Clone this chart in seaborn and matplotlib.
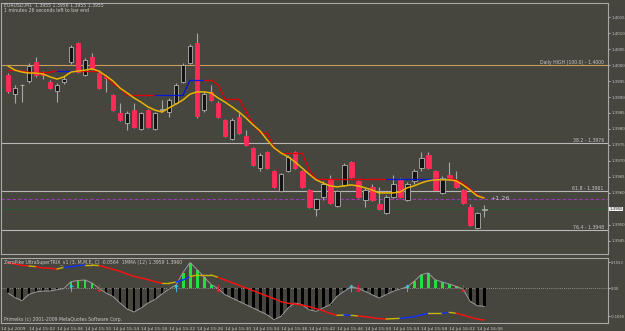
import numpy as np
import pandas as pd
import matplotlib
matplotlib.use("Agg")
import matplotlib.pyplot as plt
from matplotlib import font_manager
import seaborn as sns

# ---- data (EURUSD M1) ----
bars = list(range(69))

opens = [1.39969, 1.39909, 1.39938, 1.39950, 1.40009, 1.39972, 1.39947, 1.39919, 1.39947, 1.40009,
         1.40069, 1.39969, 1.40025, 1.39975, 1.39963, 1.39906, 1.39850, 1.39819, 1.39859, 1.39800,
         1.39859, 1.39800, 1.39859, 1.39853, 1.39881, 1.39947, 1.40006, 1.40069, 1.39859, 1.39916,
         1.39881, 1.39828, 1.39769, 1.39838, 1.39778, 1.39741, 1.39678, 1.39728, 1.39669, 1.39606,
         1.39669, 1.39728, 1.39669, 1.39609, 1.39550, 1.39588, 1.39641, 1.39559, 1.39625, 1.39697,
         1.39638, 1.39578, 1.39619, 1.39566, 1.39538, 1.39588, 1.39641, 1.39578, 1.39638, 1.39678,
         1.39719, 1.39669, 1.39600, 1.39656, 1.39638, 1.39609, 1.39556, 1.39491, 1.39547]
highs = [1.39975, 1.39938, 1.39941, 1.40006, 1.40025, 1.39981, 1.39953, 1.39944, 1.39966, 1.40063,
         1.40072, 1.40022, 1.40038, 1.39981, 1.39969, 1.39909, 1.39881, 1.39856, 1.39881, 1.39853,
         1.39863, 1.39853, 1.39891, 1.39897, 1.39944, 1.40006, 1.40066, 1.40100, 1.39916, 1.39938,
         1.39888, 1.39831, 1.39834, 1.39850, 1.39797, 1.39744, 1.39725, 1.39731, 1.39672, 1.39663,
         1.39719, 1.39731, 1.39672, 1.39613, 1.39584, 1.39638, 1.39656, 1.39609, 1.39694, 1.39700,
         1.39641, 1.39616, 1.39628, 1.39619, 1.39594, 1.39656, 1.39647, 1.39634, 1.39675, 1.39728,
         1.39728, 1.39672, 1.39653, 1.39697, 1.39669, 1.39613, 1.39566, 1.39541, 1.39563]
lows = [1.39913, 1.39881, 1.39884, 1.39944, 1.39963, 1.39956, 1.39925, 1.39884, 1.39941, 1.40003,
        1.39975, 1.39966, 1.39984, 1.39925, 1.39916, 1.39856, 1.39825, 1.39797, 1.39803, 1.39797,
        1.39803, 1.39797, 1.39853, 1.39838, 1.39878, 1.39944, 1.40003, 1.39834, 1.39853, 1.39888,
        1.39834, 1.39775, 1.39766, 1.39784, 1.39747, 1.39684, 1.39669, 1.39675, 1.39616, 1.39603,
        1.39666, 1.39675, 1.39616, 1.39553, 1.39528, 1.39578, 1.39566, 1.39556, 1.39622, 1.39647,
        1.39584, 1.39556, 1.39575, 1.39547, 1.39534, 1.39584, 1.39584, 1.39575, 1.39628, 1.39669,
        1.39675, 1.39606, 1.39597, 1.39641, 1.39616, 1.39566, 1.39497, 1.39488, 1.39525]
closes = [1.39919, 1.39928, 1.39938, 1.39997, 1.39969, 1.39969, 1.39928, 1.39938, 1.39956, 1.40056,
          1.39978, 1.40016, 1.39988, 1.39928, 1.39959, 1.39859, 1.39828, 1.39850, 1.39806, 1.39850,
          1.39806, 1.39850, 1.39863, 1.39891, 1.39938, 1.40000, 1.40059, 1.39841, 1.39909, 1.39891,
          1.39838, 1.39778, 1.39828, 1.39788, 1.39750, 1.39688, 1.39719, 1.39678, 1.39619, 1.39659,
          1.39713, 1.39678, 1.39619, 1.39556, 1.39581, 1.39628, 1.39569, 1.39606, 1.39688, 1.39650,
          1.39588, 1.39609, 1.39578, 1.39550, 1.39588, 1.39628, 1.39588, 1.39628, 1.39669, 1.39709,
          1.39678, 1.39609, 1.39647, 1.39647, 1.39619, 1.39569, 1.39500, 1.39538, 1.39550]

# smooth moving average (yellow)
ma_fast = [1.39997, 1.39984, 1.39978, 1.39975, 1.39975, 1.39972, 1.39963, 1.39956, 1.39963, 1.39978,
           1.39981, 1.39984, 1.39988, 1.39981, 1.39966, 1.39950, 1.39928, 1.39913, 1.39897, 1.39884,
           1.39869, 1.39859, 1.39853, 1.39866, 1.39878, 1.39891, 1.39909, 1.39916, 1.39916, 1.39913,
           1.39897, 1.39884, 1.39869, 1.39853, 1.39834, 1.39813, 1.39794, 1.39766, 1.39741, 1.39725,
           1.39713, 1.39697, 1.39678, 1.39659, 1.39641, 1.39631, 1.39622, 1.39619, 1.39622, 1.39625,
           1.39622, 1.39616, 1.39609, 1.39600, 1.39600, 1.39600, 1.39603, 1.39616, 1.39622, 1.39631,
           1.39638, 1.39641, 1.39641, 1.39641, 1.39638, 1.39625, 1.39609, 1.39591, 1.39584]

# stepped trend line, r = falling (red), b = rising (blue)
trend_line = [1.39984, 1.39984, 1.39981, 1.39978, 1.39978, 1.39978, 1.39978, 1.39981, 1.39981, 1.39981,
              1.39981, 1.39981, 1.39981, 1.39981, 1.39963, 1.39941, 1.39928, 1.39906, 1.39906, 1.39906,
              1.39906, 1.39906, 1.39906, 1.39906, 1.39906, 1.39906, 1.39953, 1.39953, 1.39953, 1.39953,
              1.39938, 1.39894, 1.39894, 1.39894, 1.39853, 1.39816, 1.39788, 1.39788, 1.39741, 1.39725,
              1.39725, 1.39725, 1.39725, 1.39672, 1.39644, 1.39644, 1.39644, 1.39644, 1.39644, 1.39644,
              1.39644, 1.39644, 1.39644, 1.39644, 1.39644, 1.39644, 1.39644, 1.39644, 1.39644, 1.39644,
              1.39644, 1.39644, 1.39644, 1.39644, 1.39641, 1.39631, 1.39613, 1.39594, 1.39584]
trend_state = "rrrrrrr" + "bbb" + "rrrrrrrrrrr" + "bbbbbbb" + "rrrrrrrrrrrrrrrrrrrrrrrrrr" + "bbbbbbbbb" + "rrrrrr"

# indicator panel
trix_hist = [-0.030, -0.058, -0.076, -0.038, -0.024, -0.018, -0.018, -0.010, -0.003, 0.038,
             0.045, 0.048, 0.030, -0.002, -0.030, -0.051, -0.090, -0.126, -0.144, -0.120,
             -0.090, -0.069, -0.036, -0.006, 0.018, 0.093, 0.153, 0.111, 0.066, 0.021,
             -0.003, -0.040, -0.060, -0.080, -0.100, -0.120, -0.140, -0.160, -0.190, -0.170,
             -0.120, -0.090, -0.100, -0.130, -0.140, -0.120, -0.100, -0.050, -0.020, 0.006,
             -0.002, -0.020, -0.040, -0.060, -0.040, -0.020, -0.006, 0.006, 0.040, 0.080,
             0.090, 0.050, 0.036, 0.024, 0.010, -0.006, -0.080, -0.106, -0.110]
mma_line = [0.152, 0.144, 0.136, 0.132, 0.128, 0.120, 0.118, 0.114, 0.124, 0.128,
            0.134, 0.138, 0.138, 0.134, 0.124, 0.112, 0.100, 0.084, 0.070, 0.060,
            0.050, 0.038, 0.028, 0.028, 0.036, 0.048, 0.068, 0.078, 0.078, 0.078,
            0.064, 0.048, 0.032, 0.016, 0.000, -0.016, -0.032, -0.048, -0.064, -0.082,
            -0.092, -0.096, -0.102, -0.112, -0.124, -0.136, -0.152, -0.164, -0.162, -0.164,
            -0.168, -0.172, -0.178, -0.184, -0.186, -0.184, -0.182, -0.178, -0.172, -0.162,
            -0.152, -0.152, -0.152, -0.146, -0.152, -0.162, -0.176, -0.186, -0.192]
mma_state = ("rrr" + "y" + "rrr" + "y" + "bbb" + "yy" + "rrrrrrrrr" + "yy" + "bb" + "yyyy"
             + "rrrrrrrrrrrrrrrrr" + "y" + "b" + "y" + "rrrr" + "yy" + "bbbb" + "yy" + "b" + "y" + "rrrrr")
up_arrows = [9, 24, 49, 57]
down_arrows = [13, 30, 50, 65]

time_ticks = [-1, 3, 7, 11, 15, 19, 23, 27, 31, 35, 39, 43, 47, 51, 55, 59, 63, 67]
time_labels = ["14 Jul 2009", "14 Jul 15:02", "14 Jul 15:06", "14 Jul 15:10", "14 Jul 15:14",
               "14 Jul 15:18", "14 Jul 15:22", "14 Jul 15:26", "14 Jul 15:30", "14 Jul 15:34",
               "14 Jul 15:38", "14 Jul 15:42", "14 Jul 15:46", "14 Jul 15:50", "14 Jul 15:54",
               "14 Jul 15:58", "14 Jul 16:02", "14 Jul 16:06"]
price_ticks = [1.4015, 1.4010, 1.4005, 1.4000, 1.3995, 1.3990, 1.3985, 1.3980, 1.3975,
               1.3970, 1.3965, 1.3960, 1.3950, 1.3945]
bid = 1.3955
daily_high = 1.4000
fib_levels = [1.39756, 1.39606, 1.39484]
fib_labels = ["38.2 - 1.3976", "61.8 - 1.3961", "76.4 - 1.3948"]
target_level = 1.39581
ind_ticks = [0.1553, 0.0, -0.1690]
ind_labels = ["0.1553", "0.00", "-0.1690"]

# ---- style ----
BG = "#46463f"
TXT = "#c8c8c8"
FRAME = "#a8a8a8"
sns.set_theme(style="dark")
installed = {f.name for f in font_manager.fontManager.ttflist}
if "Liberation Sans Narrow" in installed:
    plt.rcParams["font.family"] = ["Liberation Sans Narrow", "DejaVu Sans"]
    FS = 4.0
else:
    plt.rcParams["font.family"] = ["DejaVu Sans"]
    FS = 3.3
AX_FS = FS * 0.86  # right-hand price scale is tight

fig = plt.figure(figsize=(6.25, 3.31), dpi=100)
fig.patch.set_facecolor(BG)
W, H = 625, 331
ax = fig.add_axes([1 / W, 1 - 254 / H, 607 / W, 251 / H])
axi = fig.add_axes([1 / W, 1 - 323 / H, 607 / W, 65 / H], sharex=ax)

for a in (ax, axi):
    a.set_facecolor(BG)
    a.grid(False)
    for s in a.spines.values():
        s.set_color(FRAME)
        s.set_linewidth(0.8)
    a.yaxis.tick_right()
    a.tick_params(axis="y", colors=TXT, labelsize=AX_FS, length=1.5, width=0.6, pad=0.8, direction="out")

ax.set_xlim(-1, 85.7)
ax.set_ylim(1.39409, 1.40194)
axi.set_ylim(-0.21, 0.18)

# ---- candles ----
df = pd.DataFrame({"bar": bars, "open": opens, "high": highs, "low": lows, "close": closes})
bull = df["close"] >= df["open"]
lo = df[["open", "close"]].min(axis=1)
hi = df[["open", "close"]].max(axis=1)
ax.vlines(df["bar"], df["low"], df["high"], color="#a8a8a8", lw=0.8, zorder=3)
ax.bar(df["bar"], hi - lo, bottom=lo, width=0.7,
       color=np.where(bull, "#141414", "#ff2a55"),
       edgecolor=np.where(bull, "#b0b0b0", "#ff2a55"), linewidth=0.6, zorder=4)

# horizontal levels
ax.axhline(daily_high, color="#c89a5c", lw=0.8, zorder=2)
ax.text(0.993, daily_high, "Daily HIGH (100.0) - 1.4000", transform=ax.get_yaxis_transform(),
        ha="right", va="bottom", fontsize=FS, color=TXT)
for lv, lab in zip(fib_levels, fib_labels):
    ax.axhline(lv, color="#b8b8b8", lw=0.8, zorder=2)
    ax.text(0.993, lv, lab, transform=ax.get_yaxis_transform(),
            ha="right", va="bottom", fontsize=FS, color=TXT)
ax.axhline(target_level, color="#9c3cb4", lw=0.8, ls=(0, (3, 2)), zorder=2)
ax.axhline(bid, color="#2f5a38", lw=0.9, zorder=2)

# moving averages
palette = {"r": "#e00000", "b": "#0018d8", "y": "#d8b000"}
for i in range(len(bars) - 1):
    ax.plot(bars[i:i + 2], trend_line[i:i + 2], color=palette[trend_state[i]], lw=0.9, zorder=5)
sns.lineplot(x=bars, y=ma_fast, ax=ax, color="#e8b400", lw=1.1, zorder=6)

ax.text(68.9, 1.39584, "+1.26", fontsize=FS * 1.4, color=TXT, va="center", ha="left")
ax.set_yticks(price_ticks)
ax.set_yticklabels([f"{p:.4f}" for p in price_ticks])
ax.annotate(f"{bid:.4f}", xy=(1.0, bid), xycoords=("axes fraction", "data"),
            xytext=(1.2, 0), textcoords="offset points", fontsize=AX_FS, color="#202020",
            va="center", ha="left", bbox=dict(boxstyle="square,pad=0.08", fc="#eeeeee", ec="none"))
ax.tick_params(axis="x", bottom=False, labelbottom=False)

# ---- indicator ----
ind_cols = ["#22e040" if v > 0 else "#000000" for v in trix_hist]
axi.bar(bars, trix_hist, width=0.42, color=ind_cols, linewidth=0, zorder=3)
sns.lineplot(x=bars, y=trix_hist, ax=axi, color="#9a9a9a", lw=0.7, zorder=4)
axi.axhline(0, color="#a8a8a8", lw=0.6, ls=(0, (1, 1.5)), zorder=2)
ipal = {"r": "#ff1010", "b": "#1030ff", "y": "#c8b400"}
for i in range(len(bars) - 1):
    axi.plot(bars[i:i + 2], mma_line[i:i + 2], color=ipal[mma_state[i]], lw=1.0, zorder=5)
axi.scatter(up_arrows, [0] * len(up_arrows), marker=r"$\uparrow$", s=28, color="#38c8ff", zorder=6, linewidths=0)
axi.scatter(down_arrows, [0] * len(down_arrows), marker=r"$\downarrow$", s=28, color="#ff2020", zorder=6, linewidths=0)

axi.set_yticks(ind_ticks)
axi.set_yticklabels(ind_labels)
axi.tick_params(axis="y", labelsize=AX_FS * 0.92)
axi.set_xticks(time_ticks)
axi.set_xticklabels(time_labels)
axi.tick_params(axis="x", colors=TXT, labelsize=FS * 0.95, length=2, width=0.6, pad=1, direction="out")
for lab in axi.get_xticklabels():
    lab.set_ha("left")
axi.set_xlabel("")
axi.set_ylabel("")
ax.set_xlabel("")
ax.set_ylabel("")

# ---- header texts ----
fig.text(4 / W, 1 - 5 / H, "EURUSD,M1  1.3955 1.3956 1.3955 1.3955", fontsize=FS, color=TXT, va="center")
fig.text(4 / W, 1 - 11 / H, "1 minutes 26 seconds left to bar end", fontsize=FS, color=TXT, va="center")
fig.text(4 / W, 1 - 262 / H, "ZeroPike UltraSuperTRIX_v1 (3, M,M,E, C) -0.0564  1MMA (12) 1.3959 1.3960",
         fontsize=FS, color=TXT, va="center")
fig.text(4 / W, 1 - 320 / H, "Primeiks (c) 2001-2009 MetaQuotes Software Corp.", fontsize=FS, color=TXT, va="center")

fig.savefig("out.png", dpi=100, facecolor=BG)
